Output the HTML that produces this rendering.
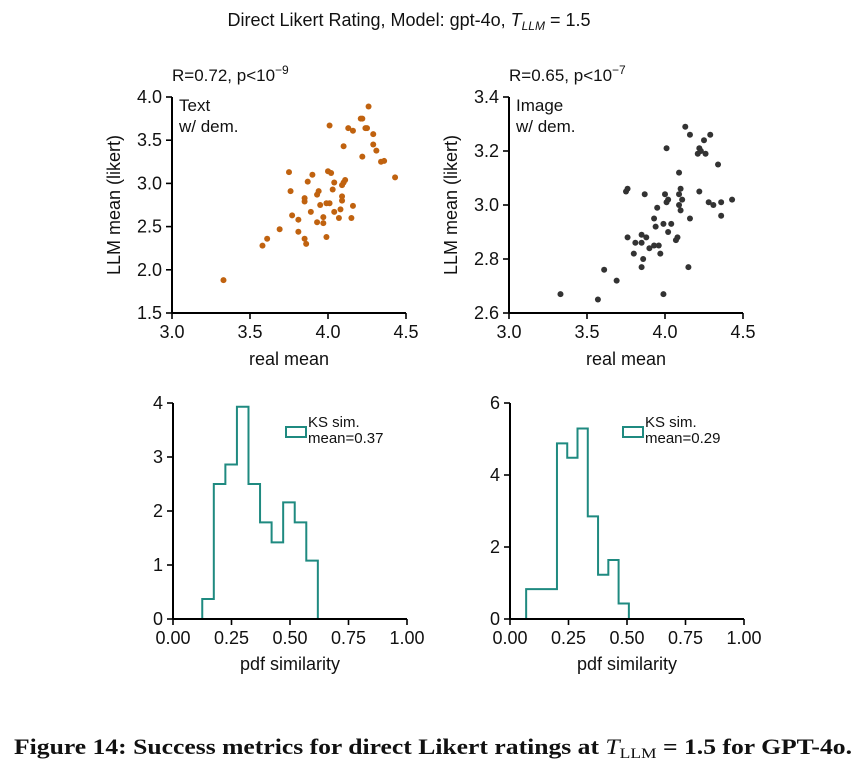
<!DOCTYPE html>
<html><head><meta charset="utf-8"><style>
body{margin:0;background:#fff;}
svg{display:block;font-family:"Liberation Sans",Arial,sans-serif;}
</style></head><body>
<svg id="fig" width="867" height="772" viewBox="0 0 867 772" xmlns="http://www.w3.org/2000/svg">
<text x="409" y="26" font-size="18" text-anchor="middle" fill="#111">Direct Likert Rating, Model: gpt-4o,  <tspan font-style="italic">T</tspan><tspan font-style="italic" font-size="12" dy="4">LLM</tspan><tspan dy="-4"> = 1.5</tspan></text>
<g id="root"></g>
<text x="14" y="754" font-family="'Liberation Serif',serif" font-weight="bold" font-size="22" textLength="838" lengthAdjust="spacingAndGlyphs" fill="#111">Figure 14: Success metrics for direct Likert ratings at <tspan font-style="italic" font-weight="normal">T</tspan><tspan font-size="15" font-weight="normal" dy="4">LLM</tspan><tspan dy="-4"> = 1.5 for GPT-4o.</tspan></text>
</svg>
<script>
// Text-condition scatter data
const textReal=[3.33,3.58,3.61,3.69,3.81,3.85,3.86,3.99,3.77,3.81,3.93,3.97,3.97,3.76,3.75,3.87,3.90,3.85,3.85,3.89,3.94,3.93,3.95,3.99,4.01,4.04,4.07,4.08,4.15,4.16,4.09,4.09,4.03,4.04,4.00,4.02,4.09,4.10,4.11,4.10,4.01,4.13,4.16,4.21,4.22,4.26,4.24,4.25,4.29,4.29,4.31,4.22,4.34,4.36,4.43];
const textLLM=[1.88,2.28,2.36,2.47,2.44,2.36,2.30,2.38,2.63,2.58,2.55,2.54,2.61,2.91,3.13,3.02,3.10,2.83,2.79,2.67,2.91,2.87,2.75,2.77,2.77,2.67,2.60,2.70,2.60,2.74,2.85,2.80,2.93,3.01,3.14,3.12,2.98,3.01,3.04,3.43,3.67,3.64,3.61,3.75,3.75,3.89,3.64,3.64,3.57,3.45,3.38,3.31,3.25,3.26,3.07];
// Image-condition scatter data
const imgReal=[3.33,3.57,3.61,3.69,3.99,4.15,3.85,3.86,3.80,3.97,3.81,3.85,3.76,3.85,3.88,3.90,3.93,3.96,3.94,3.93,3.95,3.99,4.02,4.04,4.07,4.08,4.16,4.10,4.01,4.02,4.09,4.11,4.09,4.10,4.00,3.75,3.76,3.87,4.09,4.01,4.13,4.16,4.29,4.25,4.22,4.23,4.21,4.26,4.34,4.22,4.28,4.31,4.36,4.43,4.36];
const imgLLM=[2.67,2.65,2.76,2.72,2.67,2.77,2.77,2.80,2.82,2.82,2.86,2.86,2.88,2.89,2.88,2.84,2.85,2.85,2.92,2.95,2.99,2.93,2.90,2.93,2.87,2.88,2.95,2.98,3.01,3.02,3.00,3.02,3.04,3.06,3.04,3.05,3.06,3.04,3.12,3.21,3.29,3.26,3.26,3.24,3.21,3.20,3.19,3.19,3.15,3.05,3.01,3.00,3.01,3.02,2.96];
// Histogram data (pdf similarity)
const textBinStart=0.125, textBinWidth=0.0494;
const textHist=[0.37,2.50,2.86,3.93,2.50,1.79,1.42,2.16,1.79,1.08];
const imgBinStart=0.069, imgBinWidth=0.0439;
const imgHist=[0.83,0.83,0.83,4.88,4.48,5.29,2.85,1.23,1.64,0.43];
// tick labels
const scatXTicks=[3.0,3.5,4.0,4.5];
const textYTicks=[1.5,2.0,2.5,3.0,3.5,4.0];
const imgYTicks=[2.6,2.8,3.0,3.2,3.4];
const histXTicks=[0.00,0.25,0.50,0.75,1.00];
const textHistYTicks=[0,1,2,3,4];
const imgHistYTicks=[0,2,4,6];

const NS="http://www.w3.org/2000/svg";
const root=document.getElementById('root');
function mk(tag,attrs,parent,txt){const e=document.createElementNS(NS,tag);for(const k in attrs)e.setAttribute(k,attrs[k]);if(txt!==undefined)e.textContent=txt;(parent||root).appendChild(e);return e;}
function lin(d0,d1,r0,r1){return v=>r0+(v-d0)/(d1-d0)*(r1-r0);}

function axes(g,x0,x1,y0,y1,sx,sy,xt,yt,fx,fy,name){
  const ax=mk('line',{x1:x0,y1:y1,x2:x1,y2:y1,stroke:'#000','stroke-width':2},g);
  
  
  const ay=mk('line',{x1:x0,y1:y0,x2:x0,y2:y1,stroke:'#000','stroke-width':2},g);
  
  
  xt.forEach(v=>{const x=sx(v);
    const t=mk('line',{x1:x,y1:y1,x2:x,y2:y1+6,stroke:'#000','stroke-width':1.6},g);
    
    
    const l=mk('text',{x:x,y:y1+25,'font-size':18,'text-anchor':'middle',fill:'#111'},g,v.toFixed(fx));
    
    });
  yt.forEach(v=>{const y=sy(v);
    const t=mk('line',{x1:x0-6,y1:y,x2:x0,y2:y,stroke:'#000','stroke-width':1.6},g);
    
    
    const l=mk('text',{x:x0-10,y:y+6,'font-size':18,'text-anchor':'end',fill:'#111'},g,v.toFixed(fy));
    
    });
}

function scatter(name,x0,yMin,yMax,yt,xs,ys,color,rtext,exp,lab1){
  const g=mk('g',{});
  
  
  const top=97,bot=313,x1=x0+234;
  const sx=lin(3,4.5,x0,x1), sy=lin(yMin,yMax,bot,top);
  xs.forEach((v,i)=>{const c=mk('circle',{cx:sx(v),cy:sy(ys[i]),r:3,fill:color},g);
    
    });
  axes(g,x0,x1,top,bot,sx,sy,scatXTicks,yt,1,1,name);
  const r=mk('text',{x:x0,y:81,'font-size':17,fill:'#111'},g);
  
  
  r.innerHTML='R='+rtext+', p&lt;10<tspan font-size="12" dy="-7">−'+exp+'</tspan>';
  const c1=mk('text',{x:x0+7,y:111,'font-size':17,fill:'#111'},g,lab1);
  
  
  const c2=mk('text',{x:x0+7,y:132,'font-size':17,fill:'#111'},g,'w/ dem.');
  
  
  const xl=mk('text',{x:(x0+x1)/2,y:365,'font-size':18,'text-anchor':'middle',fill:'#111'},g,'real mean');
  
  
  const yl=mk('text',{x:0,y:0,'font-size':18,'text-anchor':'middle',fill:'#111',transform:'translate('+(x0-52)+',205) rotate(-90)'},g,'LLM mean (likert)');
  
  
}

function hist(name,x0,yMax,yt,start,w,h,mean){
  const g=mk('g',{});
  
  
  const top=403,bot=619,x1=x0+234;
  const sx=lin(0,1,x0,x1), sy=lin(0,yMax,bot,top);
  let d='M'+sx(start)+','+bot;
  h.forEach((v,i)=>{d+=' L'+sx(start+i*w)+','+sy(v)+' L'+sx(start+(i+1)*w)+','+sy(v);});
  d+=' L'+sx(start+h.length*w)+','+bot;
  const p=mk('path',{d:d,fill:'none',stroke:'#1f8a80','stroke-width':2},g);
  
  
  axes(g,x0,x1,top,bot,sx,sy,histXTicks,yt,2,0,name);
  const lg=mk('g',{},g);
  
  
  mk('rect',{x:x0+113,y:427,width:20,height:10,fill:'none',stroke:'#1f8a80','stroke-width':2},lg);
  mk('text',{x:x0+135,y:427,'font-size':15,fill:'#111'},lg,'KS sim.');
  mk('text',{x:x0+135,y:443,'font-size':15,fill:'#111'},lg,'mean='+mean);
  const xl=mk('text',{x:(x0+x1)/2,y:670,'font-size':18,'text-anchor':'middle',fill:'#111'},g,'pdf similarity');
  
  
}

scatter('text-scatter',172,1.5,4.0,textYTicks,textReal,textLLM,'#c0620f','0.72','9','Text');
scatter('image-scatter',509,2.6,3.4,imgYTicks,imgReal,imgLLM,'#333333','0.65','7','Image');
hist('text-histogram',173,4,textHistYTicks,textBinStart,textBinWidth,textHist,'0.37');
hist('image-histogram',510,6,imgHistYTicks,imgBinStart,imgBinWidth,imgHist,'0.29');
</script>
</body></html>
